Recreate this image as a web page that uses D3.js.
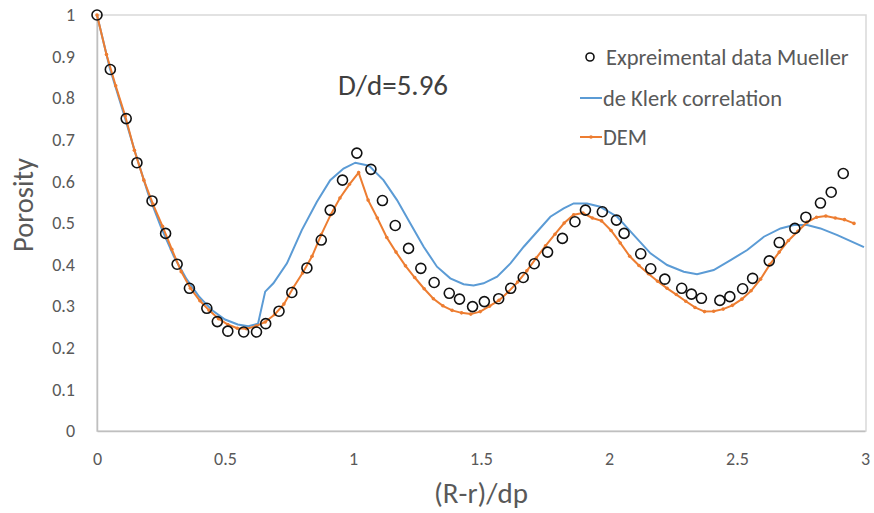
<!DOCTYPE html>
<html><head><meta charset="utf-8">
<script src="https://cdn.jsdelivr.net/npm/d3@7"></script>
<style>body{margin:0;background:#fff}svg{display:block}text{font-family:Carlito,Lato,"Open Sans",sans-serif}</style>
</head><body><svg id="c" width="874" height="513"></svg>
<script>
const xTicks=[0,0.5,1,1.5,2,2.5,3];
const xTickLabels=["0","0.5","1","1.5","2","2.5","3"];
const yTicks=[0,0.1,0.2,0.3,0.4,0.5,0.6,0.7,0.8,0.9,1];
const yTickLabels=["0","0.1","0.2","0.3","0.4","0.5","0.6","0.7","0.8","0.9","1"];
const seriesNames=["Expreimental data Mueller","de Klerk correlation","DEM"];

const expX=[0,0.052,0.114,0.156,0.215,0.268,0.313,0.361,0.429,0.470,0.511,0.573,0.623,0.659,0.711,0.761,0.820,0.876,0.911,0.959,1.015,1.070,1.115,1.165,1.217,1.265,1.317,1.376,1.416,1.467,1.513,1.569,1.616,1.665,1.708,1.760,1.818,1.867,1.908,1.974,2.029,2.059,2.124,2.163,2.218,2.284,2.322,2.361,2.433,2.472,2.522,2.561,2.626,2.665,2.726,2.769,2.826,2.868,2.915];
const expY=[1.0,0.869,0.751,0.645,0.553,0.475,0.401,0.343,0.295,0.263,0.240,0.238,0.238,0.258,0.288,0.333,0.392,0.459,0.531,0.603,0.668,0.629,0.554,0.494,0.439,0.391,0.357,0.331,0.317,0.299,0.311,0.318,0.343,0.369,0.402,0.430,0.463,0.503,0.531,0.527,0.507,0.475,0.426,0.390,0.365,0.343,0.329,0.319,0.314,0.323,0.342,0.367,0.409,0.453,0.487,0.514,0.548,0.574,0.619];

const klerkX=[0,0.05,0.1,0.15,0.2,0.25,0.3,0.35,0.4,0.45,0.5,0.55,0.591,0.629,0.657,0.689,0.742,0.800,0.859,0.911,0.963,1.009,1.054,1.067,1.119,1.172,1.224,1.276,1.328,1.380,1.432,1.471,1.510,1.563,1.615,1.667,1.719,1.771,1.823,1.862,1.914,1.966,2.032,2.097,2.162,2.227,2.292,2.344,2.409,2.475,2.540,2.605,2.670,2.722,2.774,2.826,2.892,2.996];
const klerkY=[1.0,0.872,0.772,0.668,0.570,0.490,0.420,0.365,0.322,0.290,0.268,0.256,0.252,0.258,0.335,0.355,0.403,0.483,0.551,0.603,0.631,0.645,0.639,0.635,0.603,0.555,0.499,0.443,0.395,0.367,0.353,0.350,0.355,0.371,0.403,0.443,0.479,0.515,0.535,0.547,0.547,0.539,0.515,0.471,0.427,0.399,0.383,0.377,0.387,0.411,0.435,0.467,0.487,0.495,0.495,0.487,0.471,0.442];

const demX=[0,0.037,0.073,0.110,0.146,0.183,0.219,0.256,0.292,0.329,0.365,0.402,0.438,0.475,0.511,0.548,0.584,0.621,0.657,0.694,0.730,0.767,0.803,0.840,0.876,0.913,0.949,0.986,1.022,1.059,1.095,1.132,1.168,1.205,1.241,1.278,1.314,1.351,1.387,1.424,1.460,1.497,1.533,1.570,1.606,1.643,1.679,1.716,1.752,1.789,1.825,1.862,1.898,1.935,1.971,2.008,2.044,2.081,2.117,2.154,2.190,2.227,2.263,2.300,2.336,2.373,2.409,2.446,2.482,2.519,2.555,2.592,2.628,2.665,2.701,2.738,2.774,2.811,2.847,2.884,2.920,2.957];
const demY=[1.000,0.905,0.830,0.758,0.675,0.603,0.545,0.492,0.437,0.383,0.343,0.313,0.290,0.270,0.256,0.247,0.246,0.252,0.262,0.280,0.305,0.345,0.380,0.420,0.472,0.520,0.560,0.593,0.621,0.555,0.512,0.465,0.430,0.397,0.369,0.342,0.318,0.301,0.290,0.284,0.281,0.287,0.300,0.314,0.334,0.358,0.385,0.416,0.445,0.473,0.500,0.520,0.524,0.512,0.505,0.482,0.452,0.420,0.398,0.378,0.360,0.343,0.328,0.312,0.297,0.287,0.288,0.293,0.302,0.317,0.337,0.365,0.400,0.430,0.458,0.480,0.502,0.514,0.517,0.512,0.508,0.499];

const blue="#5B9BD5", orange="#ED7D31", txt="#595959";
const svg=d3.select("#c");
const x=d3.scaleLinear().domain([0,3]).range([97,865]);
const y=d3.scaleLinear().domain([0,1]).range([431,15]);

// plot area border
svg.append("rect").attr("x",x(0)).attr("y",y(1)).attr("width",x(3)-x(0)+1).attr("height",y(0)-y(1))
  .attr("fill","none").attr("stroke","#d9d9d9").attr("stroke-width",1.5);

// axes
const xa=svg.append("g").attr("transform",`translate(0,${y(0)})`)
  .call(d3.axisBottom(x).tickValues(xTicks).tickFormat((d,i)=>xTickLabels[i]).tickSize(0).tickPadding(21));
xa.select(".domain").attr("stroke","#bfbfbf").attr("stroke-width",1.5);
xa.selectAll("text").attr("fill",txt).style("font-size","18px");
const ya=svg.append("g").attr("transform",`translate(${x(0)},0)`)
  .call(d3.axisLeft(y).tickValues(yTicks).tickFormat((d,i)=>yTickLabels[i]).tickSize(0).tickPadding(22));
ya.select(".domain").attr("stroke","#bfbfbf").attr("stroke-width",1.5);
ya.selectAll("text").attr("fill",txt).style("font-size","18px");

// titles
svg.append("text").attr("x",481).attr("y",503).attr("text-anchor","middle").attr("fill",txt).style("font-size","29px").text("(R-r)/dp");
svg.append("text").attr("transform","translate(33,205) rotate(-90)").attr("text-anchor","middle").attr("fill",txt).style("font-size","28.5px").text("Porosity");
svg.append("text").attr("x",393).attr("y",95).attr("text-anchor","middle").attr("fill","#404040").style("font-size","29px").text("D/d=5.96");

const line=d3.line().x(d=>x(d[0])).y(d=>y(d[1]));
const klerk=klerkX.map((v,i)=>[v,klerkY[i]]);
const dem=demX.map((v,i)=>[v,demY[i]]);
const exp=expX.map((v,i)=>[v,expY[i]]);

svg.append("path").datum(klerk).attr("d",line).attr("fill","none").attr("stroke",blue).attr("stroke-width",2);
svg.append("path").datum(dem).attr("d",line).attr("fill","none").attr("stroke",orange).attr("stroke-width",2);
svg.append("g").selectAll("circle").data(dem).join("circle").attr("cx",d=>x(d[0])).attr("cy",d=>y(d[1])).attr("r",1.8).attr("fill",orange);
svg.append("g").selectAll("circle").data(exp).join("circle").attr("cx",d=>x(d[0])).attr("cy",d=>y(d[1])).attr("r",5).attr("fill","none").attr("stroke","#111").attr("stroke-width",1.6);

// legend
const lg=svg.append("g");
const ly=[57,98,137];
lg.append("circle").attr("cx",590).attr("cy",ly[0]).attr("r",4).attr("fill","none").attr("stroke","#111").attr("stroke-width",1.6);
lg.append("line").attr("x1",580).attr("x2",602).attr("y1",ly[1]).attr("y2",ly[1]).attr("stroke",blue).attr("stroke-width",2);
lg.append("line").attr("x1",580).attr("x2",602).attr("y1",ly[2]).attr("y2",ly[2]).attr("stroke",orange).attr("stroke-width",2);
lg.append("circle").attr("cx",591).attr("cy",ly[2]).attr("r",1.8).attr("fill",orange);
seriesNames.forEach((s,i)=>{
  lg.append("text").attr("x",i===0?606:603).attr("y",ly[i]).attr("dy","0.35em").attr("fill",txt).style("font-size","22.5px").text(s);
});
</script></body></html>
